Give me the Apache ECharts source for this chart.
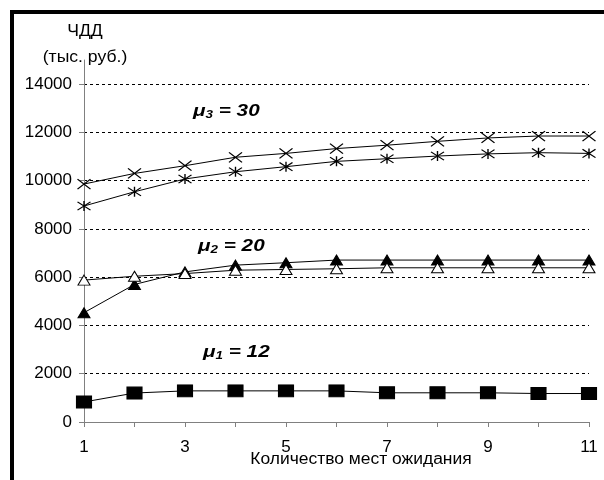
<!DOCTYPE html>
<html>
<head>
<meta charset="utf-8">
<script src="https://cdn.jsdelivr.net/npm/echarts@6/dist/echarts.min.js"></script>
<style>html,body{margin:0;padding:0;background:#fff;}#c{width:604px;height:480px;}</style>
</head>
<body>
<div id="c"></div>
<script>
const xValues = [1, 2, 3, 4, 5, 6, 7, 8, 9, 10, 11];
const mu3Cross = [9860, 10300, 10620, 10970, 11130, 11330, 11470, 11630, 11770, 11850, 11850];
const mu3Star = [8950, 9540, 10070, 10370, 10580, 10800, 10910, 11020, 11110, 11160, 11130];
const mu2Filled = [4530, 5700, 6220, 6500, 6600, 6710, 6710, 6710, 6710, 6710, 6710];
const mu2Open = [5880, 6040, 6150, 6290, 6320, 6350, 6390, 6390, 6390, 6390, 6390];
const mu1Square = [830, 1200, 1290, 1290, 1290, 1290, 1210, 1210, 1210, 1180, 1180];
const yTicks = [0, 2000, 4000, 6000, 8000, 10000, 12000, 14000];
const yTitle = ['ЧДД', '(тыс. руб.)'];
const xTitle = 'Количество мест ожидания';
const notes = [
  { mu: 'μ', sub: '3', rest: ' = 30' },
  { mu: 'μ', sub: '2', rest: ' = 20' },
  { mu: 'μ', sub: '1', rest: ' = 12' }
];

const FONT = 'Liberation Sans, Arial, sans-serif';
const pts = arr => xValues.map((x, i) => [x, arr[i]]);
const CROSS = 'path://M0,0 L10,10 M10,0 L0,10';
const STAR = 'path://M0,0 L10,10 M10,0 L0,10 M5,-1 L5,11';

function lineSeries(name, data, symbol, size, itemStyle) {
  return {
    name, type: 'line', data: pts(data), symbol, symbolSize: size, symbolKeepAspect: false,
    lineStyle: { color: '#000', width: 1 },
    itemStyle, color: '#000', z: 3, animation: false
  };
}

const chart = echarts.init(document.getElementById('c'), null, { renderer: 'canvas' });
const noteStyle = {
  m: { fontFamily: FONT, fontSize: 17, fontWeight: 'bold', fontStyle: 'italic', lineHeight: 19, color: '#000' },
  s: { fontFamily: FONT, fontSize: 11, fontWeight: 'bold', fontStyle: 'italic', lineHeight: 11, verticalAlign: 'bottom', color: '#000' }
};
const notePos = [[193, 111], [198, 246], [203, 352]];

chart.setOption({
  backgroundColor: '#fff',
  animation: false,
  grid: { left: 84, right: 15, top: 60, bottom: 58, containLabel: false },
  xAxis: {
    type: 'value', min: 1, max: 11, interval: 1,
    axisLine: { show: true, lineStyle: { color: '#808080', width: 1 } },
    axisTick: { show: true, inside: false, length: 5, lineStyle: { color: '#808080' } },
    axisLabel: { margin: 17, fontFamily: FONT, fontSize: 17, color: '#000',
      formatter: v => (v % 2 === 1 ? String(v) : '') },
    splitLine: { show: false }
  },
  yAxis: {
    type: 'value', min: 0, max: 15000, interval: 2000,
    axisLine: { show: true, lineStyle: { color: '#808080', width: 1 } },
    axisTick: { show: true, length: 5, lineStyle: { color: '#808080' }, customValues: yTicks },
    axisLabel: { margin: 12, fontFamily: FONT, fontSize: 17, color: '#000', customValues: yTicks,
      formatter: v => String(v) },
    splitLine: { show: true, lineStyle: { color: '#000', width: 1, type: [3, 3] } }
  },
  series: [
    lineSeries('cross', mu3Cross, CROSS, [13, 10], { color: 'transparent', borderColor: '#000', borderWidth: 1.2 }),
    lineSeries('star', mu3Star, STAR, [13, 10], { color: 'transparent', borderColor: '#000', borderWidth: 1.2 }),
    lineSeries('filled', mu2Filled, 'triangle', [12, 10], { color: '#000', borderColor: '#000', borderWidth: 1 }),
    lineSeries('open', mu2Open, 'triangle', [12, 10], { color: '#fff', borderColor: '#000', borderWidth: 1 }),
    lineSeries('square', mu1Square, 'rect', [15, 12], { color: '#000', borderColor: '#000', borderWidth: 1 })
  ],
  graphic: [
    { type: 'rect', shape: { x: 12, y: 12, width: 700, height: 600 }, style: { fill: 'none', stroke: '#000', lineWidth: 4 }, silent: true, z: 100 },
    { type: 'text', x: 85, y: 32, scaleX: 1.1, style: { text: yTitle[0], font: '16px ' + FONT, fill: '#000', align: 'center', verticalAlign: 'middle' } },
    { type: 'text', x: 85, y: 58, scaleX: 1.1, style: { text: yTitle[1], font: '16px ' + FONT, fill: '#000', align: 'center', verticalAlign: 'middle' } },
    { type: 'text', x: 361, y: 460, scaleX: 1.09, style: { text: xTitle, font: '16px ' + FONT, fill: '#000', align: 'center', verticalAlign: 'middle' } }
  ].concat(notes.map((n, i) => ({
    type: 'text', x: notePos[i][0], y: notePos[i][1], scaleX: 1.22,
    style: { text: '{m|' + n.mu + '}{s|' + n.sub + '}{m|' + n.rest + '}', rich: noteStyle, align: 'left', verticalAlign: 'middle' }
  })))
});
</script>
</body>
</html>
